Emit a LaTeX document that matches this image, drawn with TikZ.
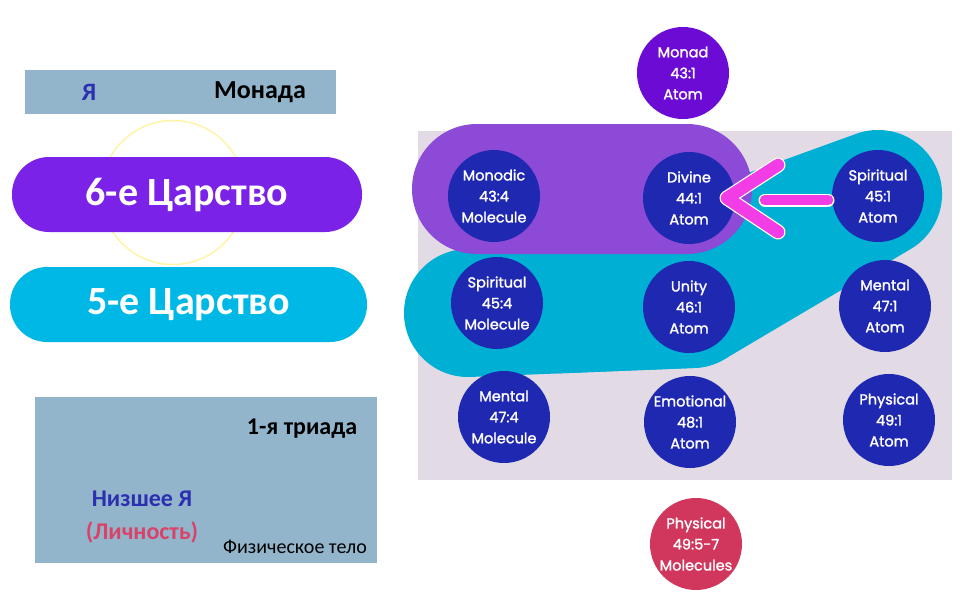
\documentclass[tikz,border=0pt]{standalone}
\usepackage{fontspec}
\setmainfont{Carlito}
\newfontfamily\circfont{Poppins}[FakeBold=1.6]
\definecolor{boxblue}{HTML}{93B5CB}
\definecolor{yablue}{HTML}{2B2FB0}
\definecolor{pillsix}{HTML}{7A22E8}
\definecolor{pillfive}{HTML}{00B8E6}
\definecolor{lav}{HTML}{E2DAE4}
\definecolor{cyanshape}{HTML}{00AFD4}
\definecolor{overpurple}{HTML}{8C4AD6}
\definecolor{ballblue}{HTML}{1F28B0}
\definecolor{monadc}{HTML}{6B0BD3}
\definecolor{redc}{HTML}{D1365C}
\definecolor{magentac}{HTML}{F23CE6}
\definecolor{pinktext}{HTML}{D9436A}
\definecolor{yellowc}{HTML}{FFF4A6}
\tikzset{
  ball/.style={circle, fill=ballblue, minimum size=92pt, inner sep=0pt, text=white,
    font=\circfont\fontsize{14.5}{21}\selectfont, align=center},
  pillbox/.style={rounded corners=37pt, minimum height=75pt, inner sep=0pt, text=white,
    font=\bfseries\fontsize{40}{42}\selectfont},
  greybox/.style={fill=boxblue, inner sep=0pt},
  arrowline/.style={line cap=round, line join=round},
}
\begin{document}
\begin{tikzpicture}[x=1pt,y=-1pt]
\useasboundingbox (0,0) rectangle (978,613);
% ---- left side ----
\node[greybox, minimum width=311pt, minimum height=44pt] (topbox) at (180.5,92) {};
\node[text=yablue, font=\bfseries\fontsize{25}{27}\selectfont] (ya) at (89,92) {Я};
\node[font=\bfseries\fontsize{26}{28}\selectfont] (monada) at (260,92) {Монада};
\node[circle, draw=yellowc, line width=1.5pt, minimum size=144pt, inner sep=0pt] (ring) at (173,192.5) {};
\node[pillbox, fill=pillsix, minimum width=350pt] (k6) at (187,194.5) {6-е Царство};
\node[pillbox, fill=pillfive, minimum width=357pt] (k5) at (188.5,304.5) {5-е Царство};
\node[greybox, minimum width=342pt, minimum height=166pt] (lowbox) at (206,480) {};
\node[font=\bfseries\fontsize{24}{26}\selectfont] (triad) at (302,429) {1-я триада};
\node[text=yablue, font=\bfseries\fontsize{24}{26}\selectfont] (nizh) at (142,499) {Низшее Я};
\node[text=pinktext, font=\bfseries\fontsize{24}{26}\selectfont] (lichn) at (142,532) {(Личность)};
\node[font=\fontsize{20}{22}\selectfont] (phys) at (295,547) {Физическое тело};
% ---- right side ----
\node[fill=lav, minimum width=534pt, minimum height=349pt, inner sep=0pt] (plane) at (685,305.5) {};
\coordinate (cL) at (468,313);
\coordinate (cM) at (560,309.3);
\coordinate (cU) at (692,304);
\coordinate (cR) at (878,194);
\draw[cyanshape, line width=128pt, line cap=round] (cL) -- (cU);
\filldraw[cyanshape, line width=128pt, line join=round] (cM) -- (cU) -- (cR) -- cycle;
\node[fill=overpurple, rounded corners=65pt, minimum width=340pt, minimum height=130pt, inner sep=0pt] (sixband) at (582,189) {};
\node[ball, fill=monadc] (monad) at (683,73) {Monad\\43:1\\Atom};
\node[ball] (monodic) at (494,196) {Monodic\\43:4\\Molecule};
\node[ball] (divine) at (689,198) {Divine\\44:1\\Atom};
\node[ball] (spirA) at (878,196) {Spiritual\\45:1\\Atom};
\node[ball] (spirM) at (497,303) {Spiritual\\45:4\\Molecule};
\node[ball] (unity) at (689,307) {Unity\\46:1\\Atom};
\node[ball] (mentA) at (885,306) {Mental\\47:1\\Atom};
\node[ball] (mentM) at (504,417) {Mental\\47:4\\Molecule};
\node[ball] (emot) at (690,422) {Emotional\\48:1\\Atom};
\node[ball] (physA) at (889,420) {Physical\\49:1\\Atom};
\node[ball, fill=redc] (physM) at (696,544) {Physical\\49:5-7\\Molecules};
% ---- magenta arrow ----
\coordinate (tip) at (727,198);
\coordinate (armU) at (778,165);
\coordinate (armD) at (778,232);
\coordinate (barL) at (765,200);
\coordinate (barR) at (828,200);
\draw[arrowline, white, line width=15pt] (armU) -- (tip) -- (armD);
\draw[arrowline, white, line width=13pt] (barL) -- (barR);
\draw[arrowline, magentac, line width=12.5pt] (armU) -- (tip) -- (armD);
\draw[arrowline, magentac, line width=10.5pt] (barL) -- (barR);
\end{tikzpicture}
\end{document}
